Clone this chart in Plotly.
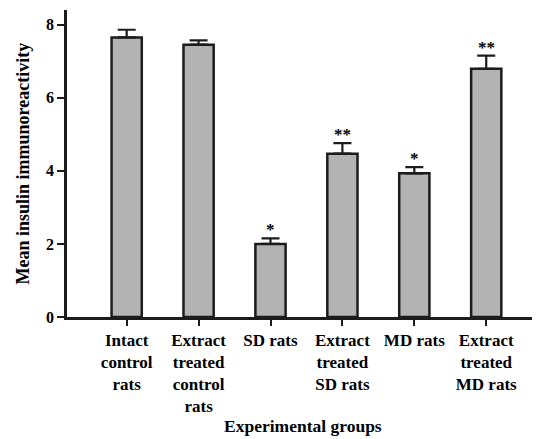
import plotly.graph_objects as go

categories = ["Intact<br>control<br>rats", "Extract<br>treated<br>control<br>rats", "SD rats",
              "Extract<br>treated<br>SD rats", "MD rats", "Extract<br>treated<br>MD rats"]
means = [7.65, 7.45, 2.0, 4.47, 3.93, 6.79]
errors = [0.21, 0.12, 0.15, 0.29, 0.17, 0.36]
stars = ["", "", "*", "**", "*", "**"]

xpos = list(range(len(categories)))
FONT = "Liberation Serif"
DARK = "#1c1c1c"

fig = go.Figure()
fig.add_trace(go.Bar(
    x=xpos, y=means, width=0.42,
    marker=dict(color="#b3b3b3", line=dict(color=DARK, width=2.5)),
    error_y=dict(type="data", symmetric=False, array=errors,
                 arrayminus=[0] * len(errors), thickness=2.2, width=9, color=DARK),
))

for xi, m, e, s in zip(xpos, means, errors, stars):
    if s:
        fig.add_annotation(x=xi, y=m + e, text="<b>" + s + "</b>", showarrow=False,
                           yanchor="bottom", yshift=-3,
                           font=dict(family=FONT, size=17, color="black"))

fig.add_annotation(xref="paper", yref="paper", x=0.5, y=0, yshift=-109,
                   text="<b>Experimental groups</b>", showarrow=False,
                   xanchor="center", yanchor="middle",
                   font=dict(family=FONT, size=17.5, color="black"))
fig.add_annotation(xref="paper", yref="paper", x=0, xshift=-45, y=0.5,
                   text="<b>Mean insulin immunoreactivity</b>", showarrow=False,
                   textangle=-90, xanchor="center", yanchor="middle",
                   font=dict(family=FONT, size=18, color="black"))

# page body has an 8px margin: size the figure to fit the 540x439 window
fig.update_layout(
    width=532, height=431,
    margin=dict(l=59, r=2, t=2, b=122, autoexpand=False),
    plot_bgcolor="white", paper_bgcolor="white",
    showlegend=False,
    font=dict(family=FONT, color="black"),
    xaxis=dict(range=[-0.83, 5.72], tickvals=xpos, automargin=False,
               ticktext=["<b>" + c.replace("<br>", "</b><br><b>") + "</b>" for c in categories],
               showline=True, linecolor=DARK, linewidth=2.5,
               ticks="outside", ticklen=6, tickwidth=2, tickcolor=DARK,
               tickfont=dict(family=FONT, size=17, color="black"),
               showgrid=False, zeroline=False, fixedrange=True),
    yaxis=dict(range=[0, 8.4], tickvals=[0, 2, 4, 6, 8], automargin=False,
               ticktext=["<b>0</b>", "<b>2</b>", "<b>4</b>", "<b>6</b>", "<b>8</b>"],
               showline=True, linecolor=DARK, linewidth=2.5,
               ticks="outside", ticklen=7, tickwidth=2, tickcolor=DARK,
               tickfont=dict(family=FONT, size=16, color="black"),
               showgrid=False, zeroline=False),
)

fig.write_html("out.html")
